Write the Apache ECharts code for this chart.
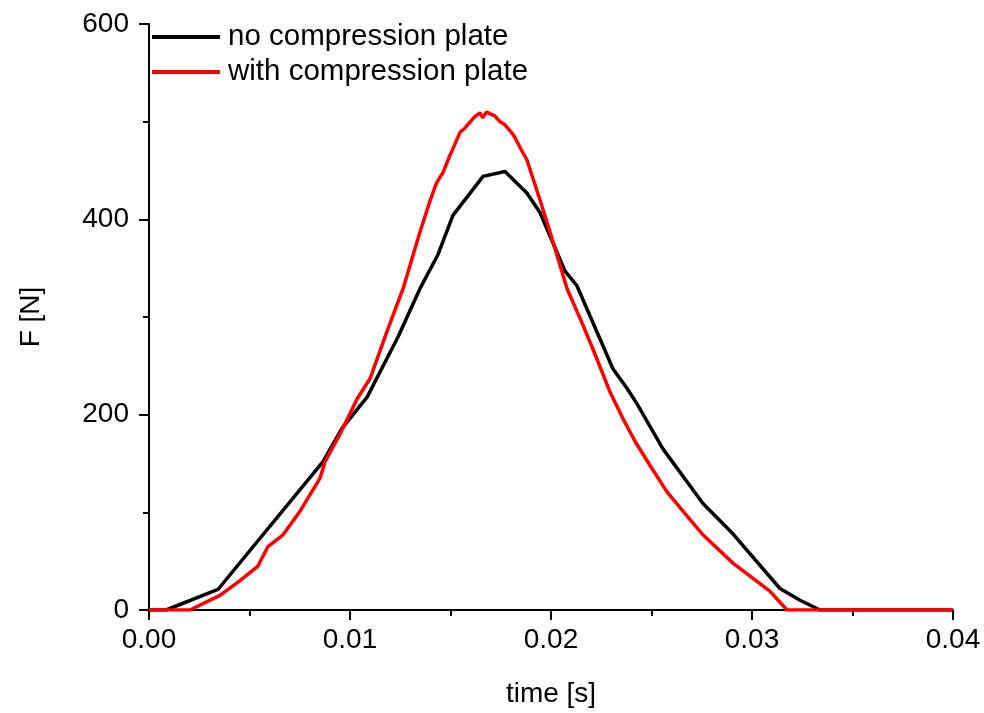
<!DOCTYPE html>
<html>
<head>
<meta charset="utf-8">
<script src="https://cdn.jsdelivr.net/npm/echarts@6/dist/echarts.min.js"></script>
<style>
  html, body { margin: 0; padding: 0; background: #fff; }
  #chart { width: 984px; height: 713px; }
</style>
</head>
<body>
<div id="chart"></div>
<script>
// Force–time curves of an impact, with and without the compression plate
const seriesNames = ['no compression plate', 'with compression plate'];

// time [s] and force [N] without plate
const timeNoPlate = [0, 0.00085, 0.00343, 0.00866, 0.0096, 0.01085, 0.0124, 0.01348, 0.01438, 0.01512,
  0.01662, 0.01771, 0.0188, 0.01945, 0.0207, 0.02129, 0.02308, 0.02378, 0.02428, 0.02557,
  0.02756, 0.02905, 0.03139, 0.03239, 0.03338, 0.04];
const forceNoPlate = [0, 0, 21, 152, 186, 218, 280, 329, 364, 404,
  444, 449, 427, 407, 347, 332, 247, 227, 211, 165,
  109, 78, 22, 10, 0, 0];

// time [s] and force [N] with plate
const timePlate = [0, 0.00204, 0.00353, 0.00453, 0.00542, 0.00592, 0.00667, 0.00751, 0.00851, 0.00876,
  0.0095, 0.01035, 0.011, 0.0118, 0.01264, 0.01348, 0.0140, 0.0143, 0.01463, 0.0149,
  0.0152, 0.01547, 0.0157, 0.0159, 0.0162, 0.01647, 0.0166, 0.0168, 0.01697, 0.0172,
  0.01746, 0.0177, 0.0179, 0.01811, 0.0183, 0.0185, 0.0188, 0.0191, 0.01945, 0.01995,
  0.0208, 0.0215, 0.02209, 0.02294, 0.02358, 0.0242, 0.02493, 0.02577, 0.0267, 0.02756,
  0.02905, 0.0309, 0.03174, 0.04];
const forcePlate = [0, 0, 15, 30, 45, 65, 77, 101, 135, 152,
  180, 216, 237, 283, 329, 387, 420, 437, 448, 462,
  476, 489, 493, 498, 505, 509, 504, 510, 508, 506,
  500, 497, 492, 487, 480, 472, 461, 442, 420, 387,
  329, 296, 267, 223, 196, 172, 148, 121, 98, 77,
  48, 19, 0, 0];

const xTicks = { min: 0, max: 0.04, interval: 0.01 };
const yTicks = { min: 0, max: 600, interval: 200 };

const zip = (xs, ys) => xs.map((x, i) => [x, ys[i]]);

const font = 'Liberation Sans, Arial, sans-serif';
const axisCommon = {
  axisLine: { show: true, onZero: false, lineStyle: { color: '#000', width: 2 } },
  axisTick: { show: true, inside: false, length: 10, lineStyle: { color: '#000', width: 2 } },
  minorTick: { show: true, splitNumber: 2, length: 6, lineStyle: { color: '#000', width: 2 } },
  splitLine: { show: false },
  nameTextStyle: { color: '#000', fontSize: 28, fontFamily: font },
};

const chart = echarts.init(document.getElementById('chart'), null, { renderer: 'canvas' });
chart.setOption({
  animation: false,
  backgroundColor: '#fff',
  grid: { left: 149, right: 31, top: 24, bottom: 101, containLabel: false },
  legend: {
    orient: 'vertical',
    left: 152,
    top: 22,
    padding: 0,
    itemWidth: 68,
    itemHeight: 4,
    itemGap: 5,
    icon: 'rect',
    textStyle: { color: '#000', fontSize: 29.5, fontFamily: font, padding: [0, 0, 0, 3] },
    data: seriesNames
  },
  xAxis: Object.assign({}, axisCommon, {
    type: 'value',
    min: xTicks.min, max: xTicks.max, interval: xTicks.interval,
    name: 'time [s]',
    nameLocation: 'middle',
    nameGap: 70,
    axisLabel: {
      color: '#000', fontSize: 28, fontFamily: font, margin: 16,
      formatter: v => v.toFixed(2)
    }
  }),
  yAxis: Object.assign({}, axisCommon, {
    type: 'value',
    min: yTicks.min, max: yTicks.max, interval: yTicks.interval,
    name: 'F [N]',
    nameLocation: 'middle',
    nameGap: 104,
    nameRotate: 90,
    axisLabel: { color: '#000', fontSize: 28, fontFamily: font, margin: 20 }
  }),
  series: [
    {
      name: seriesNames[0], type: 'line', showSymbol: false, z: 2,
      data: zip(timeNoPlate, forceNoPlate),
      itemStyle: { color: '#000' },
      lineStyle: { color: '#000', width: 3.5 }
    },
    {
      name: seriesNames[1], type: 'line', showSymbol: false, z: 3,
      data: zip(timePlate, forcePlate),
      itemStyle: { color: '#ff0000' },
      lineStyle: { color: '#ff0000', width: 3.5 }
    }
  ]
});
</script>
</body>
</html>
